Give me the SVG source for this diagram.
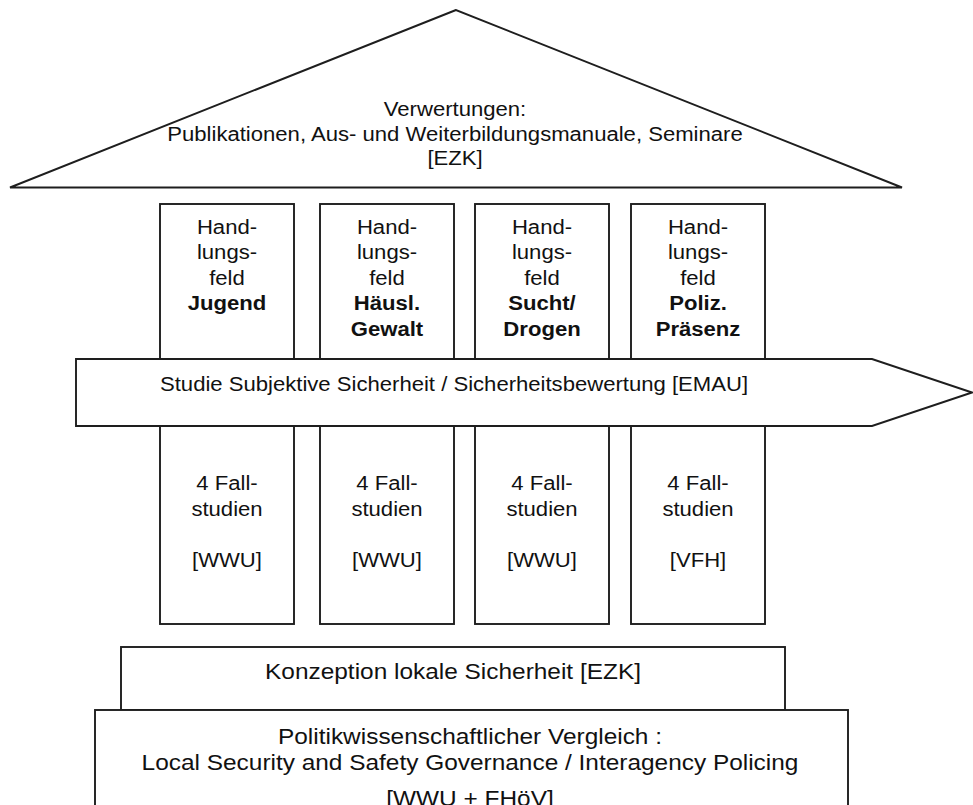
<svg xmlns="http://www.w3.org/2000/svg" width="973" height="805" viewBox="0 0 973 805">
<style>
.sh{fill:#ffffff;stroke:#1e1e1e;stroke-width:1.9;stroke-linejoin:miter}
.t{font-family:"Liberation Sans",Arial,sans-serif;font-size:20px;fill:#111111;text-anchor:middle}
.big{font-size:22px}
.l{text-anchor:start}
.b{font-weight:bold}
</style>
<rect width="973" height="805" fill="#ffffff"/>
<g id="roof">
<polygon class="sh" points="456,10 10,187.5 902,187.5"/>
<text class="t" transform="translate(455,0) scale(1.105,1)"><tspan x="0" y="116.5">Verwertungen:</tspan><tspan x="0" y="141">Publikationen, Aus- und Weiterbildungsmanuale, Seminare</tspan><tspan x="0" y="165.5">[EZK]</tspan></text>
</g>
<g id="col-jugend">
<rect class="sh" x="160" y="204" width="134" height="420"/>
<text class="t" transform="translate(227,0) scale(1.105,1)"><tspan x="0" y="234">Hand-</tspan><tspan x="0" y="259.4">lungs-</tspan><tspan x="0" y="284.8">feld</tspan><tspan x="0" y="310.2" class="b">Jugend</tspan></text>
<text class="t" transform="translate(227,0) scale(1.105,1)"><tspan x="0" y="490.5">4 Fall-</tspan><tspan x="0" y="515.9">studien</tspan><tspan x="0" y="566.7">[WWU]</tspan></text>
</g>
<g id="col-gewalt">
<rect class="sh" x="320" y="204" width="134" height="420"/>
<text class="t" transform="translate(387,0) scale(1.105,1)"><tspan x="0" y="234">Hand-</tspan><tspan x="0" y="259.4">lungs-</tspan><tspan x="0" y="284.8">feld</tspan><tspan x="0" y="310.2" class="b">Häusl.</tspan><tspan x="0" y="335.6" class="b">Gewalt</tspan></text>
<text class="t" transform="translate(387,0) scale(1.105,1)"><tspan x="0" y="490.5">4 Fall-</tspan><tspan x="0" y="515.9">studien</tspan><tspan x="0" y="566.7">[WWU]</tspan></text>
</g>
<g id="col-sucht">
<rect class="sh" x="475" y="204" width="134" height="420"/>
<text class="t" transform="translate(542,0) scale(1.105,1)"><tspan x="0" y="234">Hand-</tspan><tspan x="0" y="259.4">lungs-</tspan><tspan x="0" y="284.8">feld</tspan><tspan x="0" y="310.2" class="b">Sucht/</tspan><tspan x="0" y="335.6" class="b">Drogen</tspan></text>
<text class="t" transform="translate(542,0) scale(1.105,1)"><tspan x="0" y="490.5">4 Fall-</tspan><tspan x="0" y="515.9">studien</tspan><tspan x="0" y="566.7">[WWU]</tspan></text>
</g>
<g id="col-polizei">
<rect class="sh" x="631" y="204" width="134" height="420"/>
<text class="t" transform="translate(698,0) scale(1.105,1)"><tspan x="0" y="234">Hand-</tspan><tspan x="0" y="259.4">lungs-</tspan><tspan x="0" y="284.8">feld</tspan><tspan x="0" y="310.2" class="b">Poliz.</tspan><tspan x="0" y="335.6" class="b">Präsenz</tspan></text>
<text class="t" transform="translate(698,0) scale(1.105,1)"><tspan x="0" y="490.5">4 Fall-</tspan><tspan x="0" y="515.9">studien</tspan><tspan x="0" y="566.7">[VFH]</tspan></text>
</g>
<g id="arrow-studie">
<polygon class="sh" points="76,359 872,359 972,392.5 872,426 76,426"/>
<text class="t l" transform="translate(160,0) scale(1.105,1)" x="0" y="391.5">Studie Subjektive Sicherheit / Sicherheitsbewertung [EMAU]</text>
</g>
<g id="konzeption">
<rect class="sh" x="121" y="647" width="664" height="63"/>
<text class="t big" transform="translate(453,0) scale(1.11,1)" x="0" y="679">Konzeption lokale Sicherheit [EZK]</text>
</g>
<g id="vergleich">
<rect class="sh" x="95" y="710" width="753" height="110"/>
<text class="t big" transform="translate(470,0) scale(1.11,1)"><tspan x="0" y="744">Politikwissenschaftlicher Vergleich :</tspan><tspan x="0" y="770">Local Security and Safety Governance / Interagency Policing</tspan><tspan x="0" y="806">[WWU + FHöV]</tspan></text>
</g>
<g id="connectors"/>
</svg>
